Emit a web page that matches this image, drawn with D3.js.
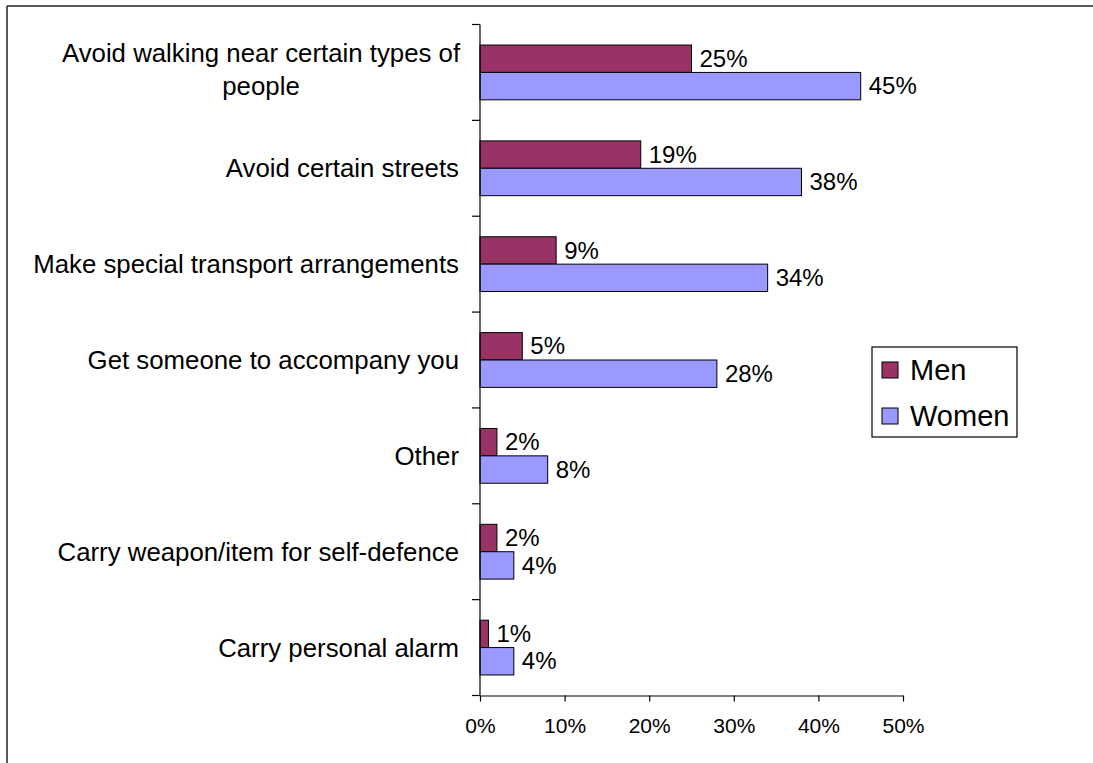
<!DOCTYPE html>
<html>
<head>
<meta charset="utf-8">
<script src="https://cdn.jsdelivr.net/npm/d3@7"></script>
<style>
  html, body { margin: 0; padding: 0; background: #fff; }
  svg { display: block; }
  text { font-family: "Liberation Sans", Arial, sans-serif; fill: #000; }
</style>
</head>
<body>
<svg id="chart" width="1093" height="763"></svg>
<script>
const categories = [
  "Avoid walking near certain types of|people",
  "Avoid certain streets",
  "Make special transport arrangements",
  "Get someone to accompany you",
  "Other",
  "Carry weapon/item for self-defence",
  "Carry personal alarm"
];
const seriesNames = ["Men", "Women"];
const menValues = [25, 19, 9, 5, 2, 2, 1];
const womenValues = [45, 38, 34, 28, 8, 4, 4];
const tickValues = [0, 10, 20, 30, 40, 50];

const colors = { Men: "#993366", Women: "#9999FF" };
const svg = d3.select("#chart");

// outer frame (only top and left visible)
svg.append("line").attr("x1", 7).attr("y1", 6).attr("x2", 1093).attr("y2", 6)
  .attr("stroke", "#222").attr("stroke-width", 1.5);
svg.append("line").attr("x1", 7).attr("y1", 6).attr("x2", 7).attr("y2", 763)
  .attr("stroke", "#222").attr("stroke-width", 1.5);

const plotLeft = 480, plotRight = 903, plotTop = 24.5, plotBottom = 695.5;
const x = d3.scaleLinear().domain([0, 50]).range([plotLeft, plotRight]);
const y = d3.scaleBand().domain(categories).range([plotTop, plotBottom]).paddingInner(1.5/3.5).paddingOuter(0.75/3.5);
const band = (plotBottom - plotTop) / categories.length;
const bw = band / 3.5;

const data = categories.map((c, i) => ({ cat: c, Men: menValues[i], Women: womenValues[i] }));

// bars
const g = svg.append("g");
seriesNames.forEach((s, si) => {
  g.selectAll(".bar-" + s).data(data).enter().append("rect")
    .attr("x", x(0))
    .attr("y", d => y(d.cat) + si * bw)
    .attr("width", d => x(d[s]) - x(0))
    .attr("height", bw)
    .attr("fill", colors[s])
    .attr("stroke", "#000").attr("stroke-width", 1);
  g.selectAll(".lab-" + s).data(data).enter().append("text")
    .attr("x", d => x(d[s]) + 8)
    .attr("y", d => y(d.cat) + si * bw + bw / 2)
    .attr("dy", "0.34em")
    .attr("font-size", 24)
    .text(d => d[s] + "%");
});

// x axis
const xAxis = d3.axisBottom(x).tickValues(tickValues).tickFormat(d => d + "%").tickSize(6).tickSizeOuter(0);
const xg = svg.append("g").attr("transform", `translate(0,${plotBottom})`).call(xAxis);
xg.select(".domain").attr("stroke", "#000").attr("stroke-width", 1.2);
xg.selectAll(".tick line").attr("stroke", "#000").attr("stroke-width", 1.2);
xg.selectAll(".tick text").attr("font-size", 21).attr("font-family", "Liberation Sans, Arial, sans-serif")
  .attr("fill", "#000").attr("y", 0).attr("dy", 0).attr("transform", "translate(0,37)");

// y axis line and ticks at category boundaries
svg.append("line").attr("x1", plotLeft).attr("x2", plotLeft).attr("y1", plotTop).attr("y2", plotBottom)
  .attr("stroke", "#000").attr("stroke-width", 1.2);
d3.range(categories.length + 1).forEach(i => {
  const yy = plotTop + i * band;
  svg.append("line").attr("x1", plotLeft - 8).attr("x2", plotLeft).attr("y1", yy).attr("y2", yy)
    .attr("stroke", "#000").attr("stroke-width", 1.2);
});

// category labels
categories.forEach(c => {
  const lines = c.split("|");
  const cy = y(c) + bw;
  if (lines.length === 1) {
    svg.append("text").attr("x", 459).attr("y", cy).attr("dy", "0.35em")
      .attr("text-anchor", "end").attr("font-size", 25.8).text(lines[0]);
  } else {
    const t = svg.append("text").attr("text-anchor", "middle").attr("font-size", 25.8);
    const lh = 33;
    lines.forEach((ln, k) => {
      t.append("tspan").attr("x", 261).attr("y", cy - 2.5 + (k - (lines.length - 1) / 2) * lh).attr("dy", "0.35em").text(ln);
    });
  }
});

// legend
const lg = svg.append("g");
lg.append("rect").attr("x", 872).attr("y", 347).attr("width", 145).attr("height", 90)
  .attr("fill", "#fff").attr("stroke", "#000").attr("stroke-width", 1.2);
seriesNames.forEach((s, i) => {
  const yy = 362 + i * 46;
  lg.append("rect").attr("x", 882).attr("y", yy).attr("width", 16).attr("height", 16)
    .attr("fill", colors[s]).attr("stroke", "#000").attr("stroke-width", 1);
  lg.append("text").attr("x", 910).attr("y", yy + 8).attr("dy", "0.36em")
    .attr("font-size", 29).text(s);
});
</script>
</body>
</html>
